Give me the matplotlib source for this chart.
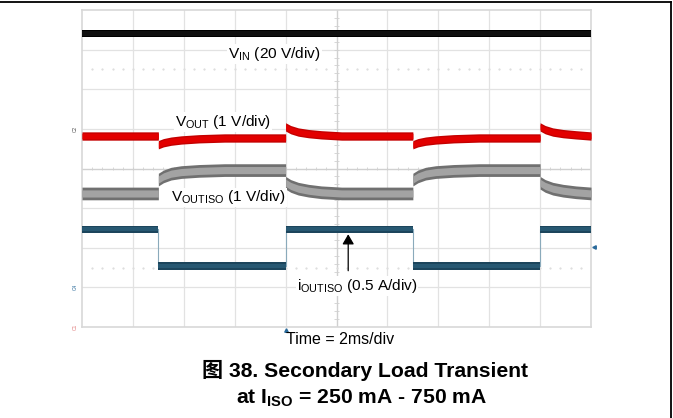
import numpy as np
import matplotlib
matplotlib.use('Agg')
import matplotlib.pyplot as plt
from matplotlib.lines import Line2D

plt.rcParams['font.family'] = ['Liberation Sans', 'Noto Sans CJK SC']
plt.rcParams['mathtext.fontset'] = 'custom'
plt.rcParams['mathtext.rm'] = 'Liberation Sans'
plt.rcParams['mathtext.bf'] = 'Liberation Sans:bold'

# scope screen: 10 x 8 divisions, values in divisions
vin_t = [0.0, 10.0]
vin_y = [7.40, 7.40]

vout_t = [0.0, 1.5, 1.5, 1.6, 1.75, 1.95, 2.3, 2.8, 4.0,
          4.0, 4.1, 4.25, 4.45, 4.7, 5.1, 6.5,
          6.5, 6.6, 6.75, 6.95, 7.3, 7.8, 9.0,
          9.0, 9.1, 9.25, 9.45, 9.7, 10.0]
vout_y = [4.82, 4.82, 4.60, 4.65, 4.69, 4.72, 4.75, 4.77, 4.77,
          5.05, 4.98, 4.92, 4.88, 4.85, 4.82, 4.82,
          4.60, 4.65, 4.69, 4.72, 4.75, 4.77, 4.77,
          5.05, 4.98, 4.92, 4.88, 4.85, 4.82]

viso_t = [0.0, 1.5, 1.5, 1.6, 1.75, 1.95, 2.3, 2.8, 4.0,
          4.0, 4.1, 4.25, 4.45, 4.7, 5.1, 6.5,
          6.5, 6.6, 6.75, 6.95, 7.3, 7.8, 9.0,
          9.0, 9.1, 9.25, 9.45, 9.7, 10.0]
viso_y = [3.37, 3.37, 3.72, 3.80, 3.87, 3.91, 3.94, 3.96, 3.96,
          3.64, 3.56, 3.49, 3.44, 3.40, 3.37, 3.37,
          3.72, 3.80, 3.87, 3.91, 3.94, 3.96, 3.96,
          3.64, 3.56, 3.49, 3.44, 3.40, 3.37]

iout_t = [0.0, 1.5, 1.5, 4.0, 4.0, 6.5, 6.5, 9.0, 9.0, 10.0]
iout_y = [2.47, 2.47, 1.54, 1.54, 2.47, 2.47, 1.54, 1.54, 2.47, 2.47]

fig = plt.figure(figsize=(6.73, 4.18), dpi=100)
ax = fig.add_axes([82/673, 1-327/418, 509/673, 317/418])
ax.set_xlim(0, 10)
ax.set_ylim(0, 8)
ax.set_xticks([])
ax.set_yticks([])
for s in ax.spines.values():
    s.set_color('#d8d8d8')
    s.set_linewidth(1.2)

# graticule
gc = '#e2e2e2'
for gx in range(1, 10):
    ax.axvline(gx, color=gc, lw=0.9, zorder=0)
for gy in range(1, 8):
    ax.axhline(gy, color=gc, lw=0.9, zorder=0)
ax.axvline(5, color='#d0d0d0', lw=0.9, zorder=0)
ax.axhline(4, color='#d0d0d0', lw=0.9, zorder=0)
mx = np.arange(0.2, 10, 0.2)
my = np.arange(0.2, 8, 0.2)
ax.vlines(mx, 3.95, 4.05, color='#d0d0d0', lw=0.6, zorder=0)
ax.hlines(my, 4.95, 5.05, color='#d0d0d0', lw=0.6, zorder=0)
for ry in [6.5, 1.5]:
    ax.plot(mx, np.full_like(mx, ry), ls='none', marker='s', ms=0.6,
            color='#dedede', zorder=0)

def band(t, y, h_out, h_in, c_out, c_in):
    t = np.array(t)
    y = np.array(y)
    ax.fill_between(t, y - h_out, y + h_out, color=c_out, lw=0, zorder=3)
    ax.fill_between(t, y - h_in, y + h_in, color=c_in, lw=0, zorder=4)

band(vin_t, vin_y, 0.085, 0.06, '#000000', '#101010')
band(vout_t, vout_y, 0.105, 0.07, '#c40000', '#e20000')
band(viso_t, viso_y, 0.16, 0.09, '#707070', '#a3a3a3')
ax.plot(iout_t, iout_y, color='#8aaabb', lw=0.8, zorder=2)
band(iout_t, iout_y, 0.09, 0.05, '#1c455c', '#275872')

# labels
bb = dict(facecolor='white', edgecolor='none', pad=0.5)
fs = 11.1
ax.text(2.87, 6.89, r'V$_{\mathregular{IN}}$ (20 V/div)', fontsize=fs,
        ha='left', va='center', bbox=bb, zorder=6)
ax.text(1.83, 5.17, r'V$_{\mathregular{OUT}}$ (1 V/div)', fontsize=fs,
        ha='left', va='center', bbox=bb, zorder=6)
ax.text(1.75, 3.27, r'V$_{\mathregular{OUTISO}}$ (1 V/div)', fontsize=fs,
        ha='left', va='center', bbox=bb, zorder=6)
ax.text(4.22, 1.04, r'i$_{\mathregular{OUTISO}}$ (0.5 A/div)', fontsize=fs,
        ha='left', va='center', bbox=bb, zorder=6)
ax.annotate('', xy=(5.23, 2.34), xytext=(5.23, 1.42),
            arrowprops=dict(arrowstyle='-|>,head_length=0.6,head_width=0.35',
                            color='black', lw=0.9, shrinkA=0, shrinkB=0),
            zorder=7)

# channel markers and trigger marks
ax.text(-0.08, 5.0, 'C2', fontsize=3.5, color='#555555', rotation=90,
        ha='right', va='center')
ax.text(-0.08, 1.0, 'C4', fontsize=3.5, color='#2a6a9a', rotation=90,
        ha='right', va='center')
ax.text(-0.08, 0.0, 'C1', fontsize=3.5, color='#e07a7a', rotation=90,
        ha='right', va='center')
ax.plot([4.0], [-0.08], marker='^', ms=2.5, color='#2a6a9a', clip_on=False)
ax.plot([10.06], [2.02], marker='<', ms=2.5, color='#2a6a9a', clip_on=False)

fig.text(340/673, 1-340/418, 'Time = 2ms/div', fontsize=11.5,
         ha='center', va='center')
fig.text(365/673, 1-370/418, '图 38. Secondary Load Transient', fontsize=15.2,
         fontweight='bold', ha='center', va='center')
fig.text(362/673, 1-398/418, r'at $\mathbf{I_{ISO}}$ = 250 mA - 750 mA',
         fontsize=15.2, fontweight='bold', ha='center', va='center')

# page frame (top and right rules)
fig.add_artist(Line2D([0, 671/673], [1-2/418, 1-2/418], color='black', lw=1.3))
fig.add_artist(Line2D([671/673, 671/673], [0, 1-2/418], color='black', lw=1.3))

fig.savefig('out.png', dpi=100)
